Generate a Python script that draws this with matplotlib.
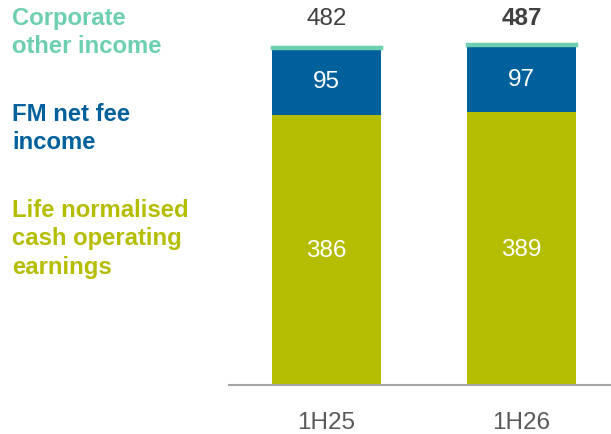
import matplotlib
matplotlib.use("Agg")
import matplotlib.pyplot as plt
import matplotlib.transforms as mtransforms
import numpy as np

plt.rcParams['font.family'] = ['Liberation Sans', 'DejaVu Sans']

# data
periods = ['1H25', '1H26']
life = [386, 389]
fm_fee = [95, 97]
corporate = [1, 1]
totals = [482, 487]

c_life = '#B5BD00'
c_fm = '#00609C'
c_corp = '#6DCFB1'

fig = plt.figure(figsize=(6.11, 4.35), dpi=100)
ax = fig.add_axes([229 / 611, 49 / 435, 1 - 229 / 611, 386 / 435])

x = np.arange(len(periods))
w = 0.56
ax.bar(x, life, w, color=c_life)
ax.bar(x, fm_fee, w, bottom=life, color=c_fm)
bottom2 = np.array(life) + np.array(fm_fee)
ax.bar(x, corporate, w, bottom=bottom2, color=c_corp, edgecolor=c_corp, linewidth=2.5)

ax.set_xlim(-0.5, 1.459)
ax.set_ylim(0, 551)

for i in range(len(periods)):
    ax.text(x[i], life[i] / 2, str(life[i]), ha='center', va='center',
            color='white', fontsize=17.5)
    ax.text(x[i], life[i] + fm_fee[i] / 2, str(fm_fee[i]), ha='center', va='center',
            color='white', fontsize=17.5)

trans = mtransforms.blended_transform_factory(ax.transData, ax.transAxes)
for i, t in enumerate(totals):
    ax.text(x[i], 0.952, str(t), transform=trans, ha='center', va='center',
            color='#404040', fontsize=17.5,
            fontweight='bold' if i == len(totals) - 1 else 'normal')

for s in ['top', 'right', 'left']:
    ax.spines[s].set_visible(False)
ax.spines['bottom'].set_color('#A6A6A6')
ax.spines['bottom'].set_linewidth(1.5)
ax.set_yticks([])
ax.set_xticks(x)
ax.set_xticklabels(periods, fontsize=17.5, color='#595959')
ax.tick_params(axis='x', length=0, pad=19)

# series labels on the left
fig.text(12 / 611, 1 - 7 / 435, 'Corporate\nother income', ha='left', va='top',
         color=c_corp, fontsize=17.2, fontweight='bold', linespacing=1.3)
fig.text(12 / 611, 1 - 103 / 435, 'FM net fee\nincome', ha='left', va='top',
         color=c_fm, fontsize=17.2, fontweight='bold', linespacing=1.3)
fig.text(12 / 611, 1 - 199 / 435, 'Life normalised\ncash operating\nearnings', ha='left', va='top',
         color=c_life, fontsize=17.2, fontweight='bold', linespacing=1.3)

fig.savefig('out.png', dpi=100)
